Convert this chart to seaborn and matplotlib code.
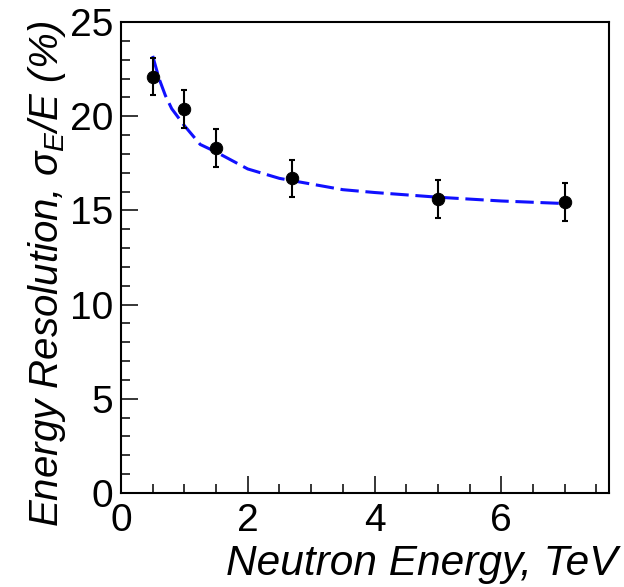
import numpy as np
import pandas as pd
import matplotlib
matplotlib.use("Agg")
import matplotlib.pyplot as plt
import seaborn as sns
from matplotlib.ticker import MultipleLocator

# data
energy = [0.5, 1.0, 1.5, 2.7, 5.0, 7.0]
resolution = [22.1, 20.4, 18.3, 16.7, 15.6, 15.45]
res_err = [1.0, 1.0, 1.0, 1.0, 1.0, 1.0]

fit_x = [0.5, 0.6, 0.7, 0.8, 1.0, 1.25, 1.5, 2.0, 2.5, 3.0, 3.5, 4.0, 5.0, 6.0, 7.1]
fit_y = [23.2, 22.0, 21.1, 20.4, 19.5, 18.5, 18.1, 17.2, 16.7, 16.4, 16.1, 15.95, 15.7, 15.5, 15.35]

x_ticks = [0, 2, 4, 6]
y_ticks = [0, 5, 10, 15, 20, 25]

sns.set_style("ticks")
plt.rcParams['font.family'] = ['Liberation Sans', 'DejaVu Sans']
plt.rcParams['mathtext.fontset'] = 'custom'
plt.rcParams['mathtext.rm'] = 'Liberation Sans'
plt.rcParams['mathtext.it'] = 'Liberation Sans:italic'

W, H = 624, 587
fig = plt.figure(figsize=(W / 100, H / 100), dpi=100)
ax = fig.add_axes([121 / W, 1 - 493 / H, (609 - 121) / W, (493 - 22) / H])

pts = pd.DataFrame({"E": energy, "R": resolution})
fit = pd.DataFrame({"E": fit_x, "R": fit_y})

sns.lineplot(data=fit, x="E", y="R", ax=ax, color="#1010ff", lw=2.2,
             linestyle=(0, (6, 2.2)), zorder=2)
ax.errorbar(energy, resolution, yerr=res_err, fmt="none", ecolor="black",
            elinewidth=1.5, capsize=2.5, capthick=1.5, zorder=3)
sns.scatterplot(data=pts, x="E", y="R", ax=ax, color="black", s=80,
                edgecolor="black", zorder=4)

ax.set_xlim(0, 7.7)
ax.set_ylim(0, 25)
ax.set_xticks(x_ticks)
ax.set_yticks(y_ticks)
ax.xaxis.set_minor_locator(MultipleLocator(0.5))
ax.yaxis.set_minor_locator(MultipleLocator(1))
ax.tick_params(which="both", direction="in", top=False, right=False,
               labelsize=28, width=1.1, colors="black")
ax.tick_params(which="major", length=12)
ax.tick_params(axis="y", which="major", pad=5.5)
ax.tick_params(axis="x", which="major", pad=7)
ax.tick_params(which="minor", length=6.5)
for s in ax.spines.values():
    s.set_linewidth(1.5)
    s.set_color("black")

ax.set_xlabel("Neutron Energy, TeV", fontsize=30.5, style="italic",
              color="black")
ax.xaxis.label.set_ha("right")
ax.xaxis.label.set_va("baseline")
ax.xaxis.set_label_coords(617 / W, 1 - 575 / H, transform=fig.transFigure)

ax.set_ylabel(r"Energy Resolution, $\sigma_{E}$/E (%)", fontsize=29,
              style="italic", color="black")
ax.yaxis.label.set_ha("right")
ax.yaxis.label.set_va("baseline")
ax.yaxis.set_label_coords(58 / W, 1 - 20 / H, transform=fig.transFigure)

fig.savefig("out.png", dpi=100)
